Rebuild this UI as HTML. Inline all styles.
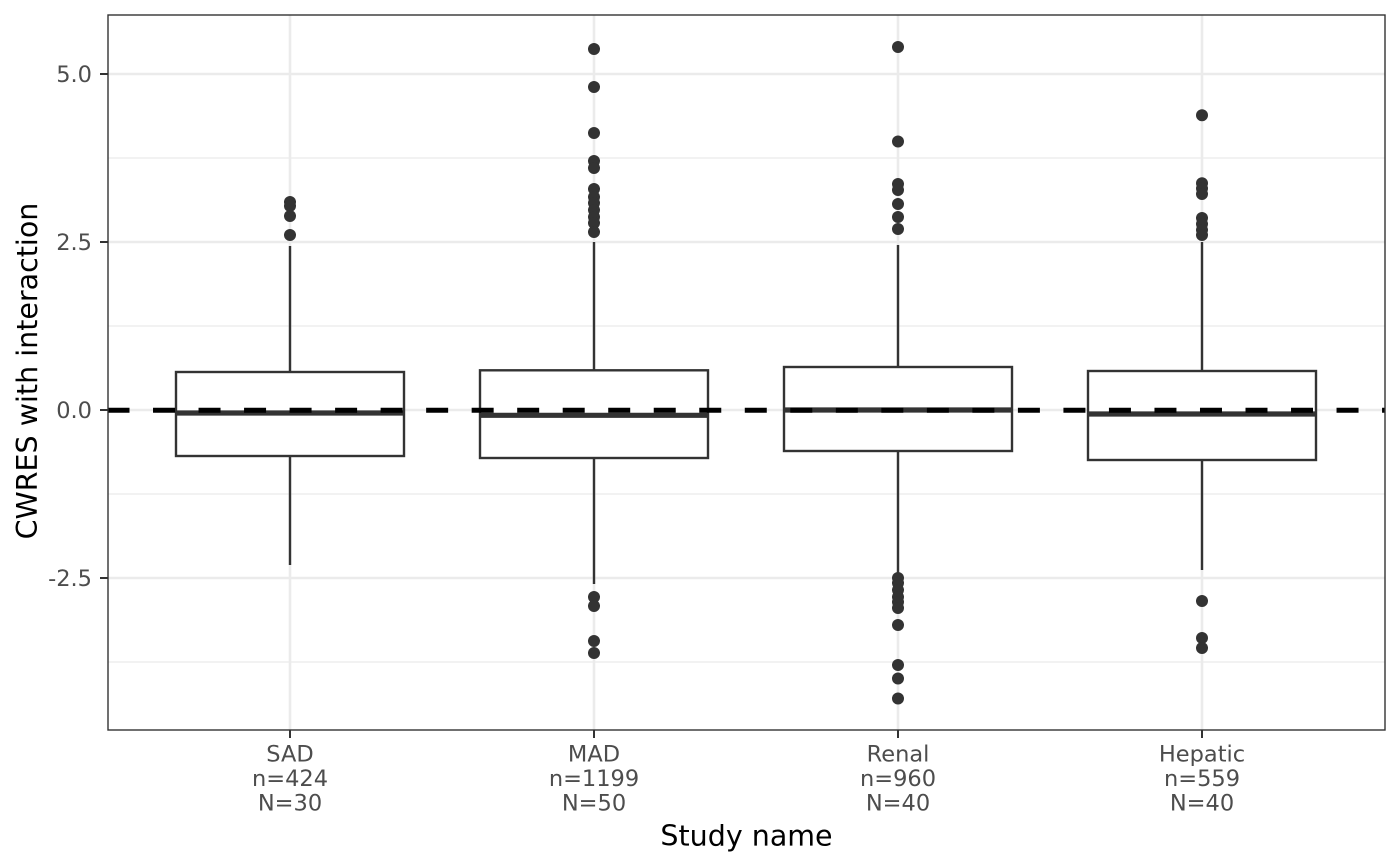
<!DOCTYPE html>
<html>
<head>
<meta charset="utf-8">
<style>
html,body{margin:0;padding:0;background:#fff;}
svg{display:block;}
text{font-family:"DejaVu Sans","Liberation Sans",sans-serif;}
</style>
</head>
<body>
<svg width="1400" height="866" viewBox="0 0 1400 866" xmlns="http://www.w3.org/2000/svg">
<rect x="0" y="0" width="1400" height="866" fill="#fff"/>
<!-- panel background -->
<rect x="108" y="15" width="1277" height="715" fill="#fff"/>
<!-- minor grid -->
<g stroke="#EBEBEB" stroke-width="1.3">
<line x1="108" x2="1385" y1="158" y2="158"/>
<line x1="108" x2="1385" y1="326" y2="326"/>
<line x1="108" x2="1385" y1="494" y2="494"/>
<line x1="108" x2="1385" y1="662" y2="662"/>
</g>
<!-- major grid -->
<g stroke="#EBEBEB" stroke-width="2.6">
<line x1="108" x2="1385" y1="74" y2="74"/>
<line x1="108" x2="1385" y1="242" y2="242"/>
<line x1="108" x2="1385" y1="410" y2="410"/>
<line x1="108" x2="1385" y1="578" y2="578"/>
<line x1="290" x2="290" y1="15" y2="730"/>
<line x1="594" x2="594" y1="15" y2="730"/>
<line x1="898" x2="898" y1="15" y2="730"/>
<line x1="1202" x2="1202" y1="15" y2="730"/>
</g>
<!-- boxplots -->
<g stroke="#333333" stroke-width="2.4" fill="#fff">
<!-- SAD -->
<line x1="290" x2="290" y1="246" y2="372"/>
<line x1="290" x2="290" y1="456" y2="565"/>
<rect x="176" y="372" width="228" height="84"/>
<line x1="176" x2="404" y1="413" y2="413" stroke-width="5.2"/>
<!-- MAD -->
<line x1="594" x2="594" y1="242" y2="370"/>
<line x1="594" x2="594" y1="458" y2="584"/>
<rect x="480" y="370.3" width="228" height="87.7"/>
<line x1="480" x2="708" y1="415.3" y2="415.3" stroke-width="5.2"/>
<!-- Renal -->
<line x1="898" x2="898" y1="245" y2="367"/>
<line x1="898" x2="898" y1="451" y2="573"/>
<rect x="784" y="367" width="228" height="84"/>
<line x1="784" x2="1012" y1="410" y2="410" stroke-width="5.2"/>
<!-- Hepatic -->
<line x1="1202" x2="1202" y1="242" y2="371"/>
<line x1="1202" x2="1202" y1="460" y2="570"/>
<rect x="1088" y="371" width="228" height="89"/>
<line x1="1088" x2="1316" y1="414" y2="414" stroke-width="5.2"/>
</g>
<!-- outliers -->
<g fill="#333333">
<!-- SAD -->
<circle cx="290" cy="202" r="6"/>
<circle cx="290" cy="206" r="6"/>
<circle cx="290" cy="216" r="6"/>
<circle cx="290" cy="235" r="6"/>
<!-- MAD -->
<circle cx="594" cy="49" r="6"/>
<circle cx="594" cy="87" r="6"/>
<circle cx="594" cy="133" r="6"/>
<circle cx="594" cy="161" r="6"/>
<circle cx="594" cy="168" r="6"/>
<circle cx="594" cy="189" r="6"/>
<circle cx="594" cy="197" r="6"/>
<circle cx="594" cy="203" r="6"/>
<circle cx="594" cy="210" r="6"/>
<circle cx="594" cy="217" r="6"/>
<circle cx="594" cy="223" r="6"/>
<circle cx="594" cy="232" r="6"/>
<circle cx="594" cy="597" r="6"/>
<circle cx="594" cy="606" r="6"/>
<circle cx="594" cy="641" r="6"/>
<circle cx="594" cy="653" r="6"/>
<!-- Renal -->
<circle cx="898" cy="47" r="6"/>
<circle cx="898" cy="141.5" r="6"/>
<circle cx="898" cy="184" r="6"/>
<circle cx="898" cy="190" r="6"/>
<circle cx="898" cy="204" r="6"/>
<circle cx="898" cy="217" r="6"/>
<circle cx="898" cy="229" r="6"/>
<circle cx="898" cy="578" r="6"/>
<circle cx="898" cy="583" r="6"/>
<circle cx="898" cy="590" r="6"/>
<circle cx="898" cy="597" r="6"/>
<circle cx="898" cy="602" r="6"/>
<circle cx="898" cy="608" r="6"/>
<circle cx="898" cy="625" r="6"/>
<circle cx="898" cy="665" r="6"/>
<circle cx="898" cy="678.5" r="6"/>
<circle cx="898" cy="698.5" r="6"/>
<!-- Hepatic -->
<circle cx="1202" cy="115.3" r="6"/>
<circle cx="1202" cy="183.3" r="6"/>
<circle cx="1202" cy="188.5" r="6"/>
<circle cx="1202" cy="194" r="6"/>
<circle cx="1202" cy="218" r="6"/>
<circle cx="1202" cy="224" r="6"/>
<circle cx="1202" cy="230" r="6"/>
<circle cx="1202" cy="235" r="6"/>
<circle cx="1202" cy="601" r="6"/>
<circle cx="1202" cy="638" r="6"/>
<circle cx="1202" cy="648" r="6"/>
</g>
<!-- dashed zero line -->
<line x1="107.5" x2="1385" y1="410.2" y2="410.2" stroke="#000" stroke-width="5" stroke-dasharray="22 23.52"/>
<!-- panel border -->
<rect x="108" y="15" width="1277" height="715" fill="none" stroke="#333333" stroke-width="1.4"/>
<!-- ticks -->
<g stroke="#333333" stroke-width="2">
<line x1="100" x2="108" y1="74" y2="74"/>
<line x1="100" x2="108" y1="242" y2="242"/>
<line x1="100" x2="108" y1="410" y2="410"/>
<line x1="100" x2="108" y1="578" y2="578"/>
<line x1="290" x2="290" y1="730" y2="738"/>
<line x1="594" x2="594" y1="730" y2="738"/>
<line x1="898" x2="898" y1="730" y2="738"/>
<line x1="1202" x2="1202" y1="730" y2="738"/>
</g>
<!-- y tick labels -->
<g font-size="22.5" fill="#4D4D4D" text-anchor="end">
<text x="92" y="82">5.0</text>
<text x="92" y="250">2.5</text>
<text x="92" y="418">0.0</text>
<text x="92" y="586">-2.5</text>
</g>
<!-- x tick labels -->
<g font-size="22.5" fill="#4D4D4D" text-anchor="middle">
<text x="290" y="761.5">SAD</text>
<text x="290" y="786">n=424</text>
<text x="290" y="810.5">N=30</text>
<text x="594" y="761.5">MAD</text>
<text x="594" y="786">n=1199</text>
<text x="594" y="810.5">N=50</text>
<text x="898" y="761.5">Renal</text>
<text x="898" y="786">n=960</text>
<text x="898" y="810.5">N=40</text>
<text x="1202" y="761.5">Hepatic</text>
<text x="1202" y="786">n=559</text>
<text x="1202" y="810.5">N=40</text>
</g>
<!-- axis titles -->
<text x="746.5" y="845.5" font-size="28.5" fill="#000" text-anchor="middle">Study name</text>
<text transform="translate(37,371) rotate(-90)" font-size="28.5" fill="#000" text-anchor="middle">CWRES with interaction</text>
</svg>
</body>
</html>
